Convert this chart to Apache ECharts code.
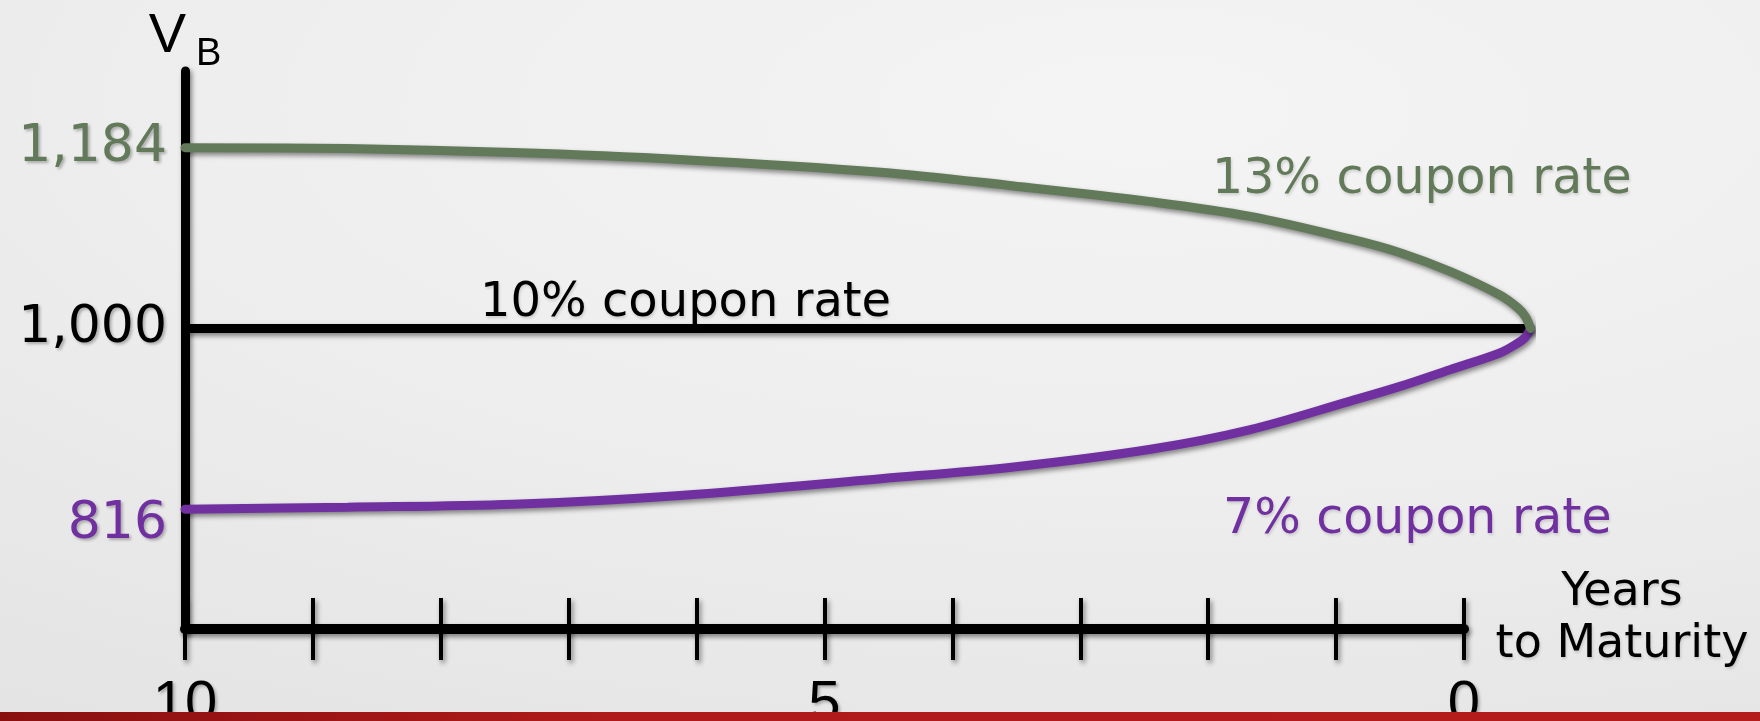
<!DOCTYPE html>
<html>
<head>
<meta charset="utf-8">
<style>
  html, body { margin: 0; padding: 0; width: 1760px; height: 721px; overflow: hidden; }
  body { background: radial-gradient(ellipse 120% 110% at 65% 15%, #f4f4f4 0%, #eeeeee 45%, #e2e2e2 100%); }
  #chart { position: absolute; left: 0; top: 0; width: 1760px; height: 721px; }
  #band { position: absolute; left: 0; bottom: 0; width: 1760px; height: 9px; z-index: 2;
          background: linear-gradient(to right, #8a1010 0%, #b01a1a 35%, #b51c1c 100%); }
</style>
<script src="https://cdn.jsdelivr.net/npm/echarts@6/dist/echarts.min.js"></script>
</head>
<body>
<div id="chart"></div>
<div id="band"></div>
<script>
// Bond value V_B against years remaining to maturity, for three coupon rates
const years13 = [10, 8.73, 7.43, 6.13, 4.56, 3.52, 2.45, 1.67, 0.89, 0.5, 0.11, -0.28, -0.42, -0.48, -0.52];
const value13 = [1184, 1183, 1179, 1172, 1159, 1145, 1129, 1114, 1091, 1077, 1058, 1034, 1021, 1012, 1000];
const years7  = [10, 8.73, 7.43, 6.13, 4.56, 3.52, 2.45, 1.67, 0.89, 0.5, 0.11, -0.28, -0.42, -0.48, -0.52];
const value7  = [816, 818, 821, 830, 847, 859, 877, 897, 926, 941, 958, 975, 985, 991, 1000];
const years10 = [10, -0.52];
const value10 = [1000, 1000];

const yTickValues = [816, 1000, 1184];
const xTickYears = [10, 9, 8, 7, 6, 5, 4, 3, 2, 1, 0];
const xTickLabels = [10, 5, 0];

const seriesNames = ['13% coupon rate', '10% coupon rate', '7% coupon rate'];

const GREEN = '#62795a';
const PURPLE = '#7030a0';
const BLACK = '#000000';

const dropShadow = { shadowColor: 'rgba(0,0,0,0.45)', shadowBlur: 5, shadowOffsetX: 2, shadowOffsetY: 3 };
const textShadow = { textShadowColor: 'rgba(0,0,0,0.28)', textShadowBlur: 3, textShadowOffsetX: 2, textShadowOffsetY: 2 };
const softTextShadow = { textShadowColor: 'rgba(0,0,0,0.15)', textShadowBlur: 3, textShadowOffsetX: 1, textShadowOffsetY: 2 };

const pair = (xs, ys) => xs.map((x, i) => [x, ys[i]]);

// The curves meet a little past maturity (x < 0), so they are plotted on a
// second grid whose x-scale matches the drawn 0–10 axis but runs further right.
const GRID_LEFT = 185, GRID_RIGHT = 296, GRID_TOP = 71, GRID_BOTTOM = 92;
const Y_MIN = 694, Y_MAX = 1262;
const tipYears = Math.min(...years13, ...years7, ...years10);
const pxPerYear = (1760 - GRID_LEFT - GRID_RIGHT) / 10;
const plotRight = GRID_RIGHT + tipYears * pxPerYear;

const yLabelFont = { fontFamily: 'DejaVu Sans', fontSize: 52, ...textShadow };
const vbFont = '"Liberation Sans Narrow", "Liberation Sans", sans-serif';

const chart = echarts.init(document.getElementById('chart'), null, { renderer: 'canvas' });

const option = {
  animation: false,
  backgroundColor: 'transparent',
  grid: [
    { left: GRID_LEFT, right: GRID_RIGHT, top: GRID_TOP, bottom: GRID_BOTTOM, containLabel: false, outerBoundsMode: 'none' },
    { left: GRID_LEFT, right: plotRight, top: GRID_TOP, bottom: GRID_BOTTOM, containLabel: false, outerBoundsMode: 'none' }
  ],
  xAxis: [
    {
      gridIndex: 0, type: 'value', min: 0, max: 10, interval: 1, inverse: true, position: 'bottom',
      axisLine: { show: true, onZero: false, lineStyle: { color: BLACK, width: 10, ...dropShadow } },
      axisTick: { show: true, inside: false, length: 31, customValues: xTickYears,
                  lineStyle: { color: BLACK, width: 4, ...dropShadow } },
      axisLabel: { customValues: xTickLabels, margin: 47, color: BLACK,
                   fontFamily: 'Liberation Sans', fontSize: 58, ...textShadow },
      splitLine: { show: false },
      name: '{n|Years}\n{n|to Maturity}', nameLocation: 'start', nameGap: 158,
      nameTextStyle: {
        align: 'center', verticalAlign: 'middle', padding: [0, 0, 20, 0],
        rich: { n: { fontFamily: 'DejaVu Sans', fontSize: 46, lineHeight: 52, color: BLACK, ...softTextShadow } }
      }
    },
    {
      gridIndex: 0, type: 'value', min: 0, max: 10, interval: 1, inverse: true, position: 'bottom', offset: 0,
      axisLine: { show: false },
      axisTick: { show: true, inside: true, length: 31, customValues: xTickYears,
                  lineStyle: { color: BLACK, width: 4, ...dropShadow } },
      axisLabel: { show: false },
      splitLine: { show: false }
    },
    {
      gridIndex: 1, type: 'value', min: tipYears, max: 10, inverse: true, show: false
    }
  ],
  yAxis: [
    {
      gridIndex: 0, type: 'value', min: Y_MIN, max: Y_MAX,
      axisLine: { show: true, onZero: false, lineStyle: { color: BLACK, width: 9, ...dropShadow } },
      axisTick: { show: false },
      splitLine: { show: false },
      axisLabel: {
        customValues: yTickValues, margin: 18,
        formatter: v => {
          const t = v.toLocaleString('en-US');
          if (v === 1184) return '{g|' + t + '}';
          if (v === 816) return '{p|' + t + '}';
          return '{k|' + t + '}';
        },
        rich: {
          g: { color: GREEN, ...yLabelFont },
          k: { color: BLACK, ...yLabelFont },
          p: { color: PURPLE, ...yLabelFont, padding: [30, 0, 0, 0] }
        }
      },
      // axis name V; its subscript B is a separate text element below
      name: 'V', nameLocation: 'end', nameGap: 6,
      nameTextStyle: {
        fontFamily: vbFont, fontSize: 56, lineHeight: 56, color: BLACK,
        align: 'right', verticalAlign: 'bottom', padding: [0, -1, 0, 0]
      }
    },
    {
      gridIndex: 1, type: 'value', min: Y_MIN, max: Y_MAX, show: false
    }
  ],
  series: [
    {
      name: seriesNames[1], type: 'line', xAxisIndex: 2, yAxisIndex: 1, data: pair(years10, value10),
      symbol: 'none', clip: false, z: 2,
      lineStyle: { color: BLACK, width: 9, ...dropShadow }
    },
    {
      name: seriesNames[2], type: 'line', xAxisIndex: 2, yAxisIndex: 1, data: pair(years7, value7),
      smooth: 0.35, symbol: 'none', clip: false, z: 3,
      lineStyle: { color: PURPLE, width: 9, cap: 'round', ...dropShadow }
    },
    {
      name: seriesNames[0], type: 'line', xAxisIndex: 2, yAxisIndex: 1, data: pair(years13, value13),
      smooth: 0.35, symbol: 'none', clip: false, z: 4,
      lineStyle: { color: GREEN, width: 9, cap: 'round', ...dropShadow }
    }
  ],
  graphic: [
    { type: 'text', x: 196, y: 55, z: 10,
      style: { text: 'B', fill: BLACK, font: '38px ' + vbFont, align: 'left', verticalAlign: 'middle' } },
    { type: 'text', x: 1212, y: 180, z: 10,
      style: { text: seriesNames[0], fill: GREEN, font: '49px "DejaVu Sans"', align: 'left', verticalAlign: 'middle', ...softTextShadow } },
    { type: 'text', x: 480, y: 304, z: 10,
      style: { text: seriesNames[1], fill: BLACK, font: '48px "DejaVu Sans"', align: 'left', verticalAlign: 'middle', ...softTextShadow } },
    { type: 'text', x: 1223, y: 520, z: 10,
      style: { text: seriesNames[2], fill: PURPLE, font: '49px "DejaVu Sans"', align: 'left', verticalAlign: 'middle', ...softTextShadow } }
  ]
};

chart.setOption(option);
</script>
</body>
</html>
